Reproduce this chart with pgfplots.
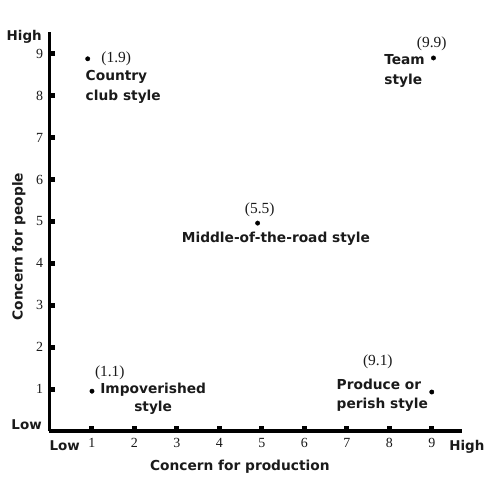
\documentclass[border=0pt]{standalone}
\usepackage{pgfplots}
\pgfplotsset{compat=1.18}
\usepackage{fontspec}
\setmainfont{Liberation Serif}
\newfontfamily\lab{DejaVu Sans}
\definecolor{txt}{HTML}{1a1a1a}
\begin{document}
\begin{tikzpicture}
\useasboundingbox (0,0) rectangle (488bp,480bp);
\begin{axis}[
  at={(49.5bp,49bp)}, anchor=south west,
  scale only axis, width=412bp, height=399bp,
  xmin=0, xmax=9.7, ymin=0, ymax=9.52,
  axis lines=left, axis line style={-, line width=3bp, black},
  xtick={1,...,9}, ytick={1,...,9},
  tick align=inside, major tick length=5bp,
  tick style={line width=5bp, black},
  xticklabel style={font=\fontsize{14}{14}\selectfont, text=txt, yshift=-4bp},
  yticklabel style={font=\fontsize{14}{14}\selectfont, text=txt, xshift=-3bp},
  /pgf/number format/assume math mode=true,
  clip=false,
]
\addplot[only marks, mark=*, mark size=2.2bp, black] coordinates {
  (0.9,8.88) (9.04,8.9) (4.9,4.96) (1.0,0.95) (9.0,0.93)
};
% axis ends
\node[anchor=east, font=\lab\bfseries\fontsize{13.5}{13.5}\selectfont, text=txt] at (axis cs:-0.1,9.4) {High};
\node[anchor=east, font=\lab\bfseries\fontsize{13.5}{13.5}\selectfont, text=txt] at (axis cs:-0.1,0.15) {Low};
\node[anchor=west, font=\lab\bfseries\fontsize{13.5}{13.5}\selectfont, text=txt] at (axis cs:-0.08,-0.36) {Low};
\node[anchor=west, font=\lab\bfseries\fontsize{13.5}{13.5}\selectfont, text=txt] at (axis cs:9.33,-0.38) {High};
% axis titles
\node[font=\lab\bfseries\fontsize{13.8}{13.8}\selectfont, text=txt] at (axis cs:4.48,-0.86) {Concern for production};
\node[rotate=90, font=\lab\bfseries\fontsize{13.8}{13.8}\selectfont, text=txt] at (axis cs:-0.72,4.4) {Concern for people};
% point labels
\node[anchor=west, font=\fontsize{15.5}{15.5}\selectfont, text=txt] at (axis cs:1.14,8.88) {(1.9)};
\node[anchor=west, align=left, font=\lab\bfseries\fontsize{13.8}{20}\selectfont, text=txt] at (axis cs:0.77,8.22) {Country\\club style};
\node[font=\fontsize{15.5}{15.5}\selectfont, text=txt] at (axis cs:9.0,9.24) {(9.9)};
\node[anchor=west, align=left, font=\lab\bfseries\fontsize{13.8}{20}\selectfont, text=txt] at (axis cs:7.8,8.58) {Team\\style};
\node[font=\fontsize{15.5}{15.5}\selectfont, text=txt] at (axis cs:4.95,5.27) {(5.5)};
\node[font=\lab\bfseries\fontsize{13.8}{13.8}\selectfont, text=txt] at (axis cs:5.33,4.58) {Middle-of-the-road style};
\node[font=\fontsize{15.5}{15.5}\selectfont, text=txt] at (axis cs:1.42,1.38) {(1.1)};
\node[align=center, font=\lab\bfseries\fontsize{13.8}{18}\selectfont, text=txt] at (axis cs:2.44,0.76) {Impoverished\\style};
\node[font=\fontsize{15.5}{15.5}\selectfont, text=txt] at (axis cs:7.73,1.65) {(9.1)};
\node[anchor=west, align=left, font=\lab\bfseries\fontsize{13.8}{19}\selectfont, text=txt] at (axis cs:6.68,0.86) {Produce or\\perish style};
\end{axis}
\end{tikzpicture}
\end{document}
